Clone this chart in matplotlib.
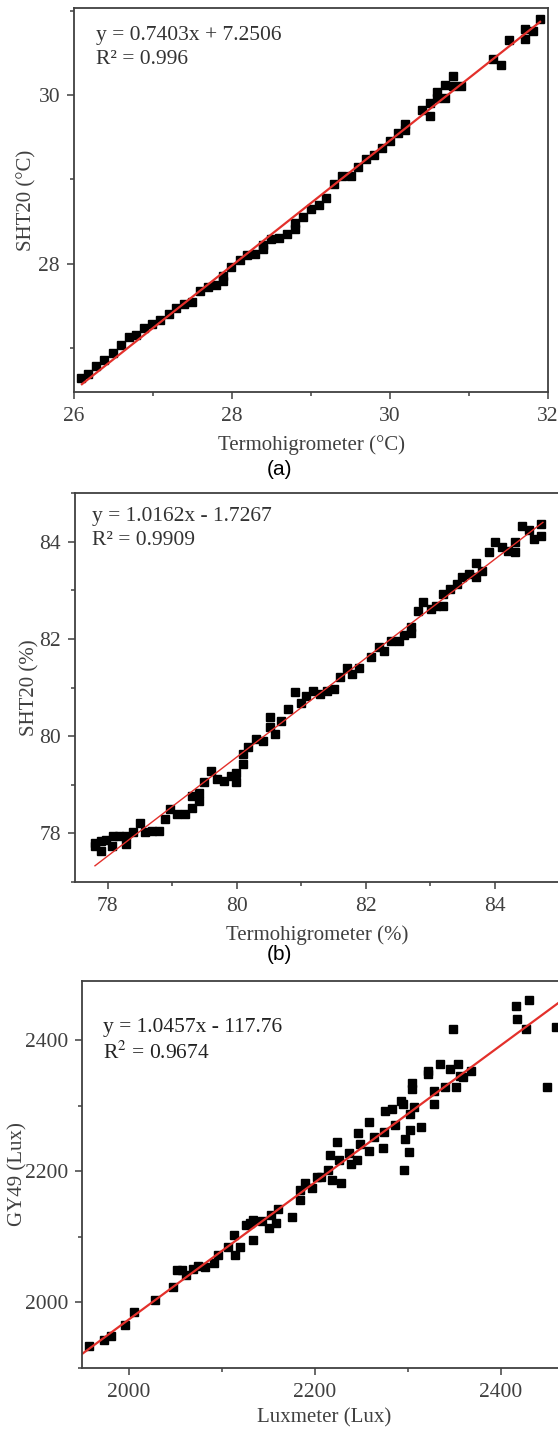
import numpy as np
import matplotlib
matplotlib.use('Agg')
import matplotlib.pyplot as plt
from matplotlib.ticker import MultipleLocator, AutoMinorLocator

plt.rcParams['font.family'] = ['Liberation Serif', 'DejaVu Serif']
plt.rcParams['mathtext.fontset'] = 'stix'

# ---- (a) temperature ----
temp_ref = [26.09, 26.18, 26.28, 26.38, 26.49, 26.59, 26.70, 26.79, 26.89, 26.99,
            27.09, 27.20, 27.29, 27.39, 27.49, 27.59, 27.69, 27.80, 27.89, 27.89,
            27.99, 28.10, 28.19, 28.29, 28.39, 28.39, 28.49, 28.59, 28.70, 28.80,
            28.80, 28.90, 29.00, 29.10, 29.19, 29.29, 29.39, 29.50, 29.60, 29.70,
            29.80, 29.90, 30.00, 30.10, 30.19, 30.19, 30.40, 30.50, 30.50, 30.60,
            30.60, 30.70, 30.70, 30.80, 30.80, 30.90, 31.30, 31.40, 31.50, 31.71,
            31.71, 31.81, 31.90]
temp_sht = [26.65, 26.69, 26.79, 26.86, 26.94, 27.04, 27.13, 27.16, 27.24, 27.29,
            27.33, 27.41, 27.47, 27.52, 27.55, 27.68, 27.73, 27.75, 27.80, 27.86,
            27.96, 28.04, 28.10, 28.12, 28.18, 28.22, 28.29, 28.31, 28.35, 28.41,
            28.48, 28.55, 28.65, 28.69, 28.78, 28.94, 29.04, 29.04, 29.15, 29.24,
            29.29, 29.37, 29.46, 29.55, 29.65, 29.59, 29.82, 29.75, 29.90, 29.96,
            30.04, 30.12, 29.96, 30.22, 30.10, 30.10, 30.43, 30.36, 30.65, 30.78,
            30.66, 30.76, 30.90]

# ---- (b) humidity ----
hum_ref = [77.80, 77.80, 77.89, 77.89, 77.97, 78.07, 78.08, 78.17, 78.28, 78.28,
           78.39, 78.50, 78.58, 78.69, 78.79, 78.88, 78.97, 79.08, 79.19, 79.30,
           79.30, 79.41, 79.41, 79.49, 79.60, 79.69, 79.80, 79.91, 79.99, 79.99,
           80.10, 80.10, 80.18, 80.30, 80.41, 80.52, 80.52, 80.60, 80.68, 80.79,
           80.90, 80.99, 81.07, 81.18, 81.29, 81.40, 81.51, 81.60, 81.71, 81.79,
           81.90, 82.09, 82.20, 82.29, 82.40, 82.51, 82.59, 82.70, 82.70, 82.81,
           82.89, 83.01, 83.09, 83.20, 83.20, 83.31, 83.42, 83.50, 83.61, 83.71,
           83.71, 83.81, 83.92, 84.00, 84.11, 84.21, 84.31, 84.31, 84.42, 84.53,
           84.61, 84.72, 84.72]
hum_sht = [77.81, 77.74, 77.64, 77.85, 77.86, 77.74, 77.95, 77.95, 77.78, 77.95,
           78.02, 78.22, 78.02, 78.04, 78.05, 78.29, 78.50, 78.40, 78.40, 78.53,
           78.77, 78.67, 78.84, 79.05, 79.29, 79.12, 79.08, 79.19, 79.25, 79.05,
           79.43, 79.63, 79.77, 79.94, 79.91, 80.39, 80.18, 80.04, 80.32, 80.56,
           80.90, 80.69, 80.83, 80.93, 80.87, 80.93, 80.97, 81.21, 81.41, 81.28,
           81.41, 81.62, 81.83, 81.76, 81.96, 81.96, 82.07, 82.13, 82.24, 82.58,
           82.75, 82.61, 82.68, 82.68, 82.92, 83.03, 83.13, 83.27, 83.33, 83.57,
           83.27, 83.40, 83.78, 83.99, 83.88, 83.81, 83.78, 83.99, 84.33, 84.23,
           84.05, 84.12, 84.36]

# ---- (c) light ----
lux_ref = [1957.9, 1973.2, 1980.9, 1996.2, 2005.7, 2028.7, 2047.8, 2052.4, 2057.4, 2061.2,
           2068.9, 2074.6, 2082.3, 2091.9, 2096.5, 2107.2, 2112.9, 2114.8, 2119.4, 2126.3,
           2130.1, 2134.0, 2134.0, 2143.5, 2151.2, 2153.1, 2158.9, 2160.8, 2175.3, 2183.7,
           2183.7, 2189.5, 2197.1, 2202.9, 2206.7, 2214.4, 2216.3, 2218.2, 2223.9, 2225.8,
           2227.8, 2237.3, 2239.2, 2245.0, 2246.9, 2248.8, 2258.4, 2258.4, 2264.1, 2273.7,
           2274.8, 2275.6, 2283.3, 2286.3, 2292.8, 2294.7, 2295.9, 2296.7, 2301.6, 2302.4,
           2302.4, 2304.3, 2304.3, 2306.2, 2313.9, 2321.5, 2321.5, 2328.4, 2328.4, 2334.9,
           2339.9, 2345.3, 2348.3, 2351.4, 2354.1, 2356.0, 2359.8, 2367.5, 2416.1, 2417.2,
           2426.8, 2430.6, 2449.8, 2459.3]
lux_gy49 = [1933.2, 1943.3, 1949.4, 1966.1, 1985.3, 2004.1, 2023.3, 2049.6, 2049.6, 2042.0,
            2050.6, 2055.7, 2053.7, 2060.8, 2072.4, 2084.1, 2102.8, 2072.4, 2085.1, 2118.0,
            2120.5, 2095.2, 2125.6, 2124.6, 2112.9, 2133.2, 2120.5, 2141.8, 2130.6, 2171.1,
            2155.9, 2182.3, 2173.7, 2191.4, 2191.4, 2201.5, 2224.3, 2186.3, 2244.6, 2216.7,
            2182.3, 2227.8, 2211.6, 2216.7, 2258.2, 2242.0, 2274.9, 2230.9, 2252.2, 2235.9,
            2259.7, 2291.6, 2295.2, 2270.9, 2307.8, 2302.8, 2201.5, 2249.6, 2229.4, 2287.6,
            2262.3, 2334.2, 2325.6, 2297.7, 2267.3, 2353.4, 2348.4, 2323.0, 2302.8, 2363.5,
            2329.1, 2355.9, 2416.7, 2329.1, 2363.5, 2345.8, 2343.3, 2352.4, 2452.2, 2431.9,
            2416.7, 2460.8, 2329.1, 2419.2]

# fit equations shown on the chart
fit_a = (0.7403, 7.2506)
fit_b = (1.0162, -1.7267)
fit_c = (1.0457, -117.76)

W, H = 558, 1429
fig = plt.figure(figsize=(W / 100, H / 100), dpi=100)

grey = '#404040'
red = '#e3302b'


def make_ax(l, r, t, b):
    ax = fig.add_axes([l / W, 1 - b / H, (r - l) / W, (b - t) / H])
    for s in ax.spines.values():
        s.set_color(grey)
        s.set_linewidth(1.3)
    ax.tick_params(which='both', direction='out', colors=grey, labelsize=15.5)
    ax.tick_params(which='major', length=5, width=1.1)
    ax.tick_params(which='minor', length=3, width=1.1)
    ax.tick_params(axis='x', pad=6)
    ax.tick_params(axis='y', pad=5)
    return ax


def put_labels(ax, xl, yl, l, r, t, b, xl_y, yl_x):
    # label centres given in figure pixels
    ax.set_xlabel(xl, fontsize=15, color=grey, va='center')
    ax.set_ylabel(yl, fontsize=15, color=grey, va='center', ha='center')
    ax.xaxis.set_label_coords(0.5, (b - xl_y) / (b - t))
    ax.yaxis.set_label_coords((yl_x - l) / (r - l), 0.5)


# panel (a)
ax1 = make_ax(74, 548, 8, 392)
ax1.plot(temp_ref, temp_sht, 's', color='k', ms=6.2)
xx = np.array([26.1, 31.9])
ax1.plot(xx, fit_a[0] * xx + fit_a[1], color=red, lw=1.6)
ax1.set_xlim(26, 32)
ax1.set_ylim(26.48, 31.03)
ax1.xaxis.set_major_locator(MultipleLocator(2))
ax1.yaxis.set_major_locator(MultipleLocator(2))
ax1.xaxis.set_minor_locator(AutoMinorLocator(2))
ax1.yaxis.set_minor_locator(AutoMinorLocator(2))
put_labels(ax1, 'Termohigrometer (°C)', 'SHT20 (°C)', 74, 548, 8, 392, 445, 27)
ax1.text(0.046, 0.952, 'y = 0.7403x + 7.2506\nR² = 0.996', transform=ax1.transAxes,
         ha='left', va='top', fontsize=15.5, color='#333333', linespacing=1.35)
fig.text(279 / W, 1 - 470 / H, '(a)', ha='center', va='center', fontsize=15,
         family=['Liberation Sans'])

# panel (b)
ax2 = make_ax(75, 559, 493, 882)
ax2.plot(hum_ref, hum_sht, 's', color='k', ms=6.2)
xx = np.array([77.8, 84.75])
ax2.plot(xx, fit_b[0] * xx + fit_b[1], color=red, lw=1.0)
ax2.set_xlim(77.49, 85)
ax2.set_ylim(77, 85)
ax2.xaxis.set_major_locator(MultipleLocator(2))
ax2.yaxis.set_major_locator(MultipleLocator(2))
ax2.xaxis.set_minor_locator(AutoMinorLocator(2))
ax2.yaxis.set_minor_locator(AutoMinorLocator(2))
put_labels(ax2, 'Termohigrometer (%)', 'SHT20 (%)', 75, 559, 493, 882, 935, 30)
ax2.text(0.036, 0.964, 'y = 1.0162x - 1.7267\nR² = 0.9909', transform=ax2.transAxes,
         ha='left', va='top', fontsize=15.5, color='#333333', linespacing=1.35)
fig.text(279 / W, 1 - 955 / H, '(b)', ha='center', va='center', fontsize=15,
         family=['Liberation Sans'])

# panel (c)
ax3 = make_ax(82, 566, 981, 1368)
ax3.plot(lux_ref, lux_gy49, 's', color='k', ms=6.2)
xx = np.array([1950, 2470])
ax3.plot(xx, fit_c[0] * xx + fit_c[1], color=red, lw=1.6)
ax3.set_xlim(1950, 2470)
ax3.set_ylim(1900, 2490)
ax3.xaxis.set_major_locator(MultipleLocator(200))
ax3.yaxis.set_major_locator(MultipleLocator(200))
ax3.xaxis.set_minor_locator(AutoMinorLocator(2))
ax3.yaxis.set_minor_locator(AutoMinorLocator(2))
put_labels(ax3, 'Luxmeter (Lux)', 'GY49 (Lux)', 82, 566, 981, 1368, 1418, 18)
ax3.text(0.043, 0.905, 'y = 1.0457x - 117.76\nR$^2$ = 0.9674', transform=ax3.transAxes,
         ha='left', va='top', fontsize=15.5, color='#222222', linespacing=1.3)

fig.savefig('out.png', dpi=100)
